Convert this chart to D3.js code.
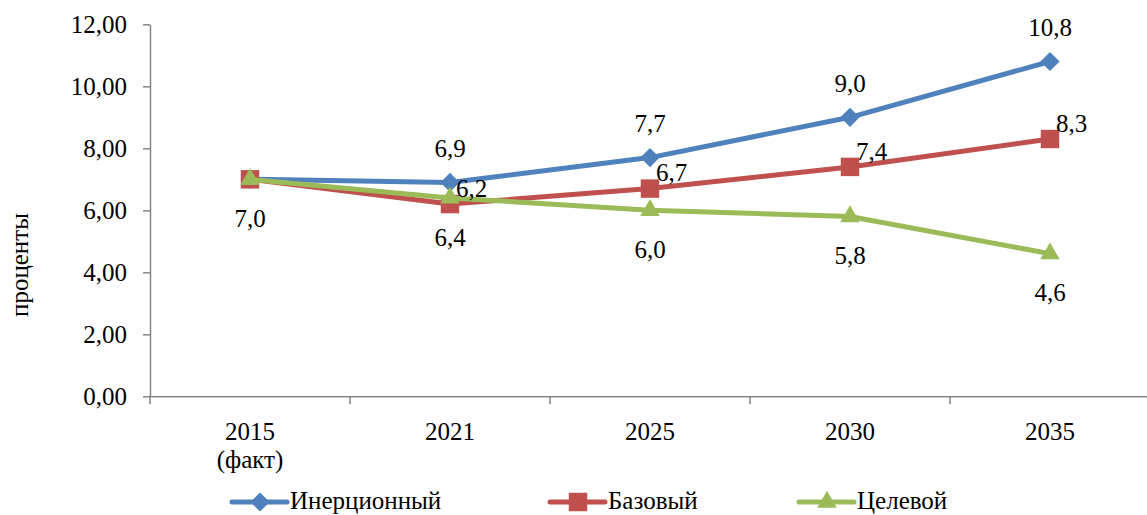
<!DOCTYPE html>
<html>
<head>
<meta charset="utf-8">
<script src="https://cdn.jsdelivr.net/npm/d3@7.9.0/dist/d3.min.js"></script>
<style>
  body { margin: 0; background: #fff; }
  .axis path, .axis line { stroke: #868686; stroke-width: 1.5; }
  text { font-family: "Liberation Serif", "Times New Roman", Tinos, "DejaVu Serif", serif; }
</style>
</head>
<body>
<svg width="1147" height="515"></svg>
<script>
// data
const categories = ['2015|(факт)', '2021', '2025', '2030', '2035'];
const inertial = [7.0, 6.9, 7.7, 9.0, 10.8];
const base = [7.0, 6.2, 6.7, 7.4, 8.3];
const target = [7.0, 6.4, 6.0, 5.8, 4.6];
const seriesNames = ['Инерционный', 'Базовый', 'Целевой'];
const yTicks = [0, 2, 4, 6, 8, 10, 12];

const series = [
  { name: seriesNames[0], values: inertial, color: '#4F81BD', marker: 'diamond', label: 'above', skipFirst: true },
  { name: seriesNames[1], values: base, color: '#C0504D', marker: 'square', label: 'right', skipFirst: true },
  { name: seriesNames[2], values: target, color: '#9BBB59', marker: 'triangle', label: 'below', skipFirst: false },
];

const svg = d3.select('svg');
const plotLeft = 150, plotRight = 1150, plotTop = 24.3, plotBottom = 396.3;

const x = d3.scaleBand().domain(categories).range([plotLeft, plotRight]);
const y = d3.scaleLinear().domain([0, 12]).range([plotBottom, plotTop]);
const fmt = (v) => v.toFixed(1).replace('.', ',');

// y axis
const yAxis = svg.append('g')
  .attr('class', 'axis')
  .attr('transform', `translate(${plotLeft},0)`)
  .call(d3.axisLeft(y).tickValues(yTicks).tickSize(7).tickSizeOuter(0).tickPadding(16)
    .tickFormat((d) => d.toFixed(2).replace('.', ',')))
  .attr('font-size', 25);
yAxis.selectAll('text').attr('fill', '#000');

// x axis: labels centred in bands, ticks at band edges
const xAxis = svg.append('g')
  .attr('class', 'axis')
  .attr('transform', `translate(0,${plotBottom})`)
  .call(d3.axisBottom(x).tickSize(0).tickSizeOuter(0).tickFormat(''))
  .attr('font-size', 25);
xAxis.selectAll('.tick').remove();
const edges = categories.map((c) => x(c)).concat([plotRight]);
xAxis.selectAll('line.edge')
  .data(edges)
  .join('line')
  .attr('class', 'edge')
  .attr('x1', (d) => d).attr('x2', (d) => d)
  .attr('y1', 0).attr('y2', 8);
const xl = xAxis.selectAll('text.cat')
  .data(categories)
  .join('text')
  .attr('class', 'cat')
  .attr('fill', '#000')
  .attr('text-anchor', 'middle')
  .attr('x', (d) => x(d) + x.bandwidth() / 2)
  .attr('y', 44);
xl.selectAll('tspan')
  .data((d) => d.split('|'))
  .join('tspan')
  .attr('x', function () { return this.parentNode.getAttribute('x'); })
  .attr('dy', (d, i) => (i === 0 ? 0 : 28))
  .text((d) => d);

// y axis title
svg.append('text')
  .attr('transform', `translate(28,265) rotate(-90)`)
  .attr('text-anchor', 'middle')
  .attr('font-size', 25)
  .text('проценты');

const cx = (i) => x(categories[i]) + x.bandwidth() / 2;

function symbolPath(kind) {
  if (kind === 'diamond') return d3.symbol(d3.symbolSquare, 185)();
  if (kind === 'square') return d3.symbol(d3.symbolSquare, 340)();
  return d3.symbol(d3.symbolTriangle, 165)();
}
function symbolRotate(kind) { return kind === 'diamond' ? ' rotate(45)' : ''; }

const line = d3.line().x((d, i) => cx(i)).y((d) => y(d));

series.forEach((s) => {
  const g = svg.append('g');
  g.append('path')
    .attr('d', line(s.values))
    .attr('fill', 'none')
    .attr('stroke', s.color)
    .attr('stroke-width', 5)
    .attr('stroke-linejoin', 'round');
  g.selectAll('path.m')
    .data(s.values)
    .join('path')
    .attr('class', 'm')
    .attr('d', symbolPath(s.marker))
    .attr('transform', (d, i) => `translate(${cx(i)},${y(d)})${symbolRotate(s.marker)}`)
    .attr('fill', s.color);
});

// data labels
series.forEach((s) => {
  s.values.forEach((v, i) => {
    if (i === 0 && s.skipFirst) return;
    let lx = cx(i), ly = y(v), anchor = 'middle';
    if (s.label === 'above') ly -= 34;
    else if (s.label === 'below') ly += 39;
    else { lx += 6; ly -= 16; anchor = 'start'; }
    svg.append('text')
      .attr('x', lx).attr('y', ly)
      .attr('dy', '0.35em')
      .attr('text-anchor', anchor)
      .attr('font-size', 25)
      .text(fmt(v));
  });
});

// legend
const legendX = [232, 550, 799];
const legend = svg.append('g').attr('transform', 'translate(0,502)');
series.forEach((s, i) => {
  const lg = legend.append('g').attr('transform', `translate(${legendX[i]},0)`);
  lg.append('line')
    .attr('x1', 0).attr('x2', 55)
    .attr('stroke', s.color).attr('stroke-width', 5).attr('stroke-linecap', 'round');
  lg.append('path')
    .attr('d', symbolPath(s.marker))
    .attr('transform', `translate(28,0)${symbolRotate(s.marker)}`)
    .attr('fill', s.color);
  lg.append('text')
    .attr('x', 58).attr('y', 7)
    .attr('font-size', 25)
    .text(s.name);
});
</script>
</body>
</html>
